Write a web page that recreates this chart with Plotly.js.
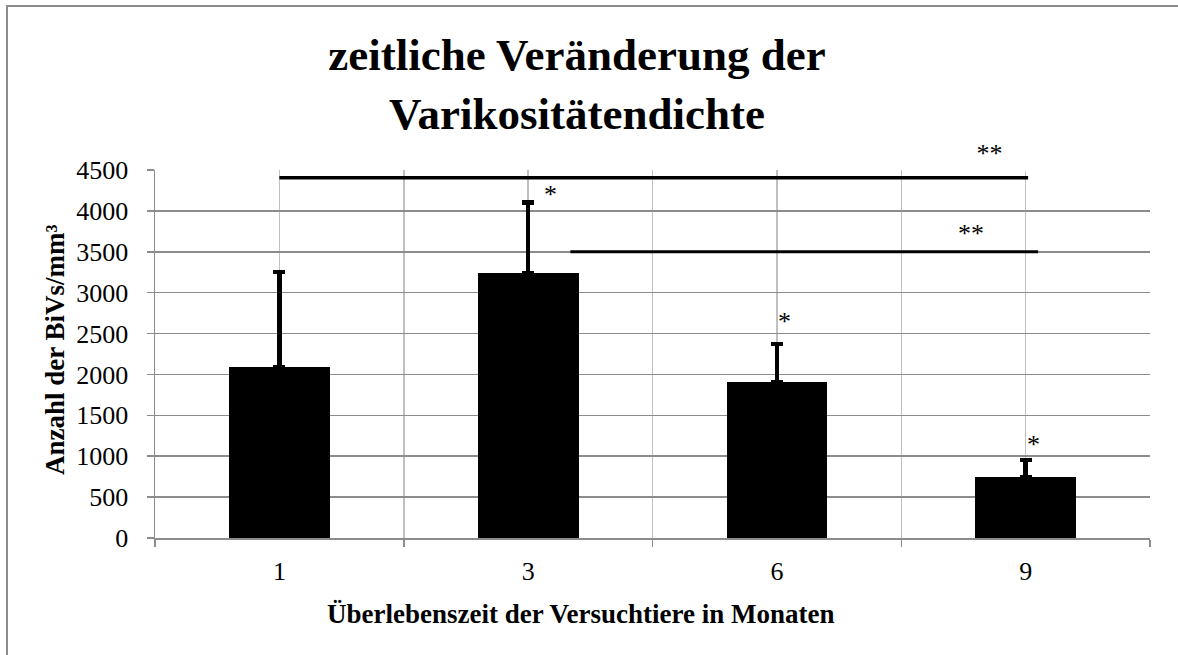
<!DOCTYPE html>
<html>
<head>
<meta charset="utf-8">
<script src="https://cdn.plot.ly/plotly-3.0.1.min.js"></script>
<style>
html,body{margin:0;padding:0;background:#fff;}
#chart{width:1178px;height:655px;}
</style>
</head>
<body>
<div id="chart"></div>
<script>
// ---- data ----
const categories = ['1', '3', '6', '9'];
const values = [2090, 3235, 1910, 745];
const errorsUp = [1160, 865, 465, 210];

// significance bars: start / end position (category index units), level
const sigStart = [0, 1.17];
const sigEnd = [3.01, 3.05];
const sigLevel = [4405, 3500];
const sigLabels = ['**', '**'];
const sigLabelX = [2.87, 2.78];
const sigLabelY = [4700, 3720];

// single-star markers
const starX = [1.09, 2.03, 3.03];
const starY = [4200, 2650, 1140];
const starLabels = ['*', '*', '*'];

const yMax = 4500;
const titleText = 'zeitliche Veränderung der<br>Varikositätendichte';
const xTitle = 'Überlebenszeit der Versuchtiere in Monaten';
const yTitle = 'Anzahl der BiVs/mm³';

const FONT = '"Liberation Serif", "Times New Roman", serif';
const xIdx = categories.map((c, i) => i);

const traces = [{
  type: 'bar',
  x: xIdx,
  y: values,
  width: 0.405,
  marker: {color: '#000000', line: {width: 0}},
  error_y: {type: 'data', symmetric: false, array: errorsUp, arrayminus: values.map(() => 0),
            color: '#000000', thickness: 4.5, width: 6},
  hoverinfo: 'skip',
  showlegend: false
}];
sigLevel.forEach((lv, i) => {
  traces.push({
    type: 'scatter', mode: 'lines',
    x: [sigStart[i], sigEnd[i]], y: [lv, lv],
    line: {color: '#000000', width: i === 0 ? 3.5 : 3},
    cliponaxis: false, hoverinfo: 'skip', showlegend: false
  });
});

const NB = '\u00a0';
const annotations = [];
sigLabels.forEach((t, i) => {
  const above = sigLabelY[i] > yMax;
  annotations.push({
    x: sigLabelX[i], xref: 'x',
    y: above ? sigLabelY[i] / yMax : sigLabelY[i], yref: above ? 'paper' : 'y',
    text: i === 0 ? NB.repeat(3) + t + NB.repeat(4) : t,
    showarrow: false, font: {family: FONT, size: 26, color: '#000'},
    bgcolor: i === 0 ? '#ffffff' : 'rgba(0,0,0,0)', borderpad: 3,
    xanchor: 'center', yanchor: 'middle'
  });
});
starLabels.forEach((t, i) => {
  annotations.push({
    x: starX[i], y: starY[i], xref: 'x', yref: 'y', text: t,
    showarrow: false, font: {family: FONT, size: 26, color: '#000'},
    xanchor: 'center', yanchor: 'middle'
  });
});
annotations.push({
  x: (55 - 155) / 995, y: 0.511, xref: 'paper', yref: 'paper',
  text: '<b>' + yTitle + '</b>', textangle: -90, showarrow: false,
  font: {family: FONT, size: 27, color: '#000'}, xanchor: 'center', yanchor: 'middle'
});
annotations.push({
  x: (580 - 155) / 995, y: -0.2065, xref: 'paper', yref: 'paper',
  text: '<b>' + xTitle + '</b>', showarrow: false,
  font: {family: FONT, size: 27, color: '#000'}, xanchor: 'center', yanchor: 'middle'
});

const layout = {
  width: 1178, height: 655,
  margin: {l: 155, r: 28, t: 170, b: 117, pad: 0},
  paper_bgcolor: '#ffffff', plot_bgcolor: '#ffffff',
  font: {family: FONT, color: '#000'},
  title: {
    text: '<b>' + titleText + '</b>',
    font: {family: FONT, size: 45, color: '#000'},
    x: 577 / 1178, xanchor: 'center', xref: 'container',
    y: 1 - 70 / 655, yanchor: 'top', yref: 'container'
  },
  xaxis: {
    range: [-0.5, 3.5],
    tickvals: xIdx, ticktext: categories,
    ticks: '', ticklabelstandoff: 9,
    tickfont: {family: FONT, size: 26, color: '#000'},
    showgrid: true, gridcolor: '#c0c0c0', gridwidth: 1.5,
    showline: true, linecolor: '#8c8c8c', linewidth: 1.5,
    zeroline: false, fixedrange: true,
    minor: {tickvals: [-0.5, 0.5, 1.5, 2.5, 3.5], ticks: 'outside', ticklen: 7,
            tickcolor: '#8c8c8c', tickwidth: 1.5, showgrid: true, gridcolor: '#c0c0c0', gridwidth: 1.5}
  },
  yaxis: {
    range: [0, yMax], dtick: 500, tick0: 0,
    ticks: 'outside', ticklen: 7, tickcolor: '#8c8c8c', tickwidth: 1.5,
    ticklabelstandoff: 13,
    tickfont: {family: FONT, size: 26, color: '#000'},
    showgrid: true, gridcolor: '#8c8c8c', gridwidth: 1.5,
    showline: true, linecolor: '#8c8c8c', linewidth: 1.5,
    zeroline: false, fixedrange: true
  },
  annotations: annotations,
  shapes: [{
    type: 'rect', xref: 'paper', yref: 'paper',
    x0: (7 - 155) / 995, x1: (1200 - 155) / 995,
    y0: (538 - 680) / 368, y1: (538 - 6) / 368,
    line: {color: '#8c8c8c', width: 2}, fillcolor: 'rgba(0,0,0,0)', layer: 'below'
  }],
  showlegend: false,
  bargap: 0
};

Plotly.newPlot('chart', traces, layout, {displayModeBar: false, staticPlot: true});
</script>
</body>
</html>
